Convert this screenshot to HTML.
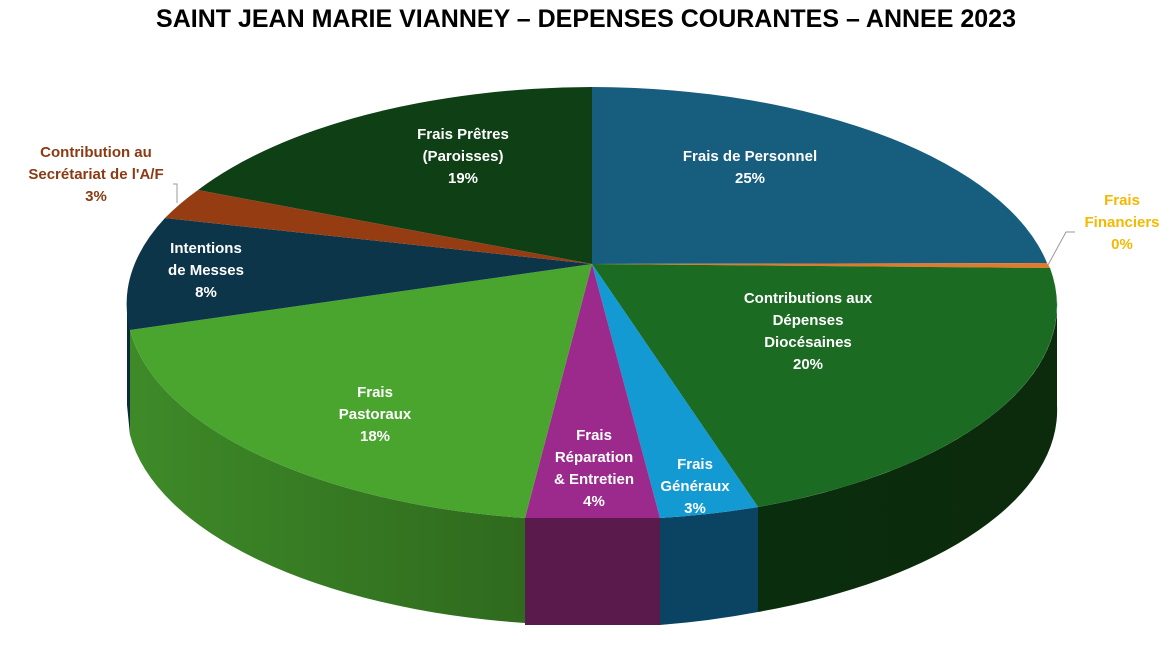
<!DOCTYPE html>
<html><head><meta charset="utf-8"><style>
html,body{margin:0;padding:0;background:#fff}
svg{display:block}
text{font-family:"Liberation Sans",sans-serif;font-weight:bold}
.w{fill:#fff;font-size:15px}
</style></head><body>
<svg width="1173" height="646" viewBox="0 0 1173 646">
<defs>
<linearGradient id="gp" x1="0" x2="1" y1="0" y2="0">
<stop offset="0" stop-color="#3e8a28"/><stop offset="1" stop-color="#2f6a1e"/></linearGradient>
<linearGradient id="gc" x1="0" x2="1"><stop offset="0" stop-color="#0a2e0d"/><stop offset="1" stop-color="#0c2a0c"/></linearGradient>
</defs>
<text x="586" y="27" text-anchor="middle" style="font-size:25px" fill="#000">SAINT JEAN MARIE VIANNEY – DEPENSES COURANTES – ANNEE 2023</text>
<!-- sides -->
<path d="M130,330 A465,216 0 0 0 525,518 L525,623 A465,216 0 0 1 130,435 Z" fill="url(#gp)"/>
<path d="M127,300 L130,330 L130,435 L127,405 Z" fill="#0b2a3a"/>
<path d="M525,518 L660,518 L660,625 L525,625 Z" fill="#5b1a4c"/>
<path d="M660,518 A465,216 0 0 0 758,507 L758,612 A465,216 0 0 1 660,625 Z" fill="#0a4462"/>
<path d="M758,507 A465,216 0 0 0 1057,300 L1057,405 A465,216 0 0 1 758,612 Z" fill="url(#gc)"/>
<!-- top -->
<g>
<path d="M592,264 L592,87 A465,216 0 0 1 1047,263 Z" fill="#175e7e"/>
<path d="M592,264 L1047,263 A465,216 0 0 1 1050,268 Z" fill="#e07a2c"/>
<path d="M592,264 L1050,268 A465,216 0 0 1 758,507 Z" fill="#1b6b23"/>
<path d="M592,264 L758,507 A465,216 0 0 1 660,518 Z" fill="#139ad2"/>
<path d="M592,264 L660,518 L525,518 Z" fill="#9c2a8d"/>
<path d="M592,264 L525,518 A465,216 0 0 1 130,330 Z" fill="#4aa52e"/>
<path d="M592,264 L130,330 A465,216 0 0 1 165,218 Z" fill="#0d354a"/>
<path d="M592,264 L165,218 A465,216 0 0 1 198,190 Z" fill="#963c12"/>
<path d="M592,264 L198,190 A465,216 0 0 1 592,87 Z" fill="#0f3f14"/>
</g>
<polyline points="1048,265 1066,232 1075,232" fill="none" stroke="#999" stroke-width="1"/>
<polyline points="173,184 177,184 177,203" fill="none" stroke="#999" stroke-width="1"/>
<g text-anchor="middle">
<text class="w" x="750" y="161">Frais de Personnel</text>
<text class="w" x="750" y="183">25%</text>
<text x="1122" y="205" fill="#f5b800" style="font-size:15px">Frais</text>
<text x="1122" y="227" fill="#f5b800" style="font-size:15px">Financiers</text>
<text x="1122" y="249" fill="#f5b800" style="font-size:15px">0%</text>
<text class="w" x="808" y="303">Contributions aux</text>
<text class="w" x="808" y="325">Dépenses</text>
<text class="w" x="808" y="347">Diocésaines</text>
<text class="w" x="808" y="369">20%</text>
<text class="w" x="695" y="469">Frais</text>
<text class="w" x="695" y="491">Généraux</text>
<text class="w" x="695" y="513">3%</text>
<text class="w" x="594" y="440">Frais</text>
<text class="w" x="594" y="462">Réparation</text>
<text class="w" x="594" y="484">&amp; Entretien</text>
<text class="w" x="594" y="506">4%</text>
<text class="w" x="375" y="397">Frais</text>
<text class="w" x="375" y="419">Pastoraux</text>
<text class="w" x="375" y="441">18%</text>
<text class="w" x="206" y="253">Intentions</text>
<text class="w" x="206" y="275">de Messes</text>
<text class="w" x="206" y="297">8%</text>
<text x="96" y="157" fill="#8b3a12" style="font-size:15px">Contribution au</text>
<text x="96" y="179" fill="#8b3a12" style="font-size:15px">Secrétariat de l'A/F</text>
<text x="96" y="201" fill="#8b3a12" style="font-size:15px">3%</text>
<text class="w" x="463" y="139">Frais Prêtres</text>
<text class="w" x="463" y="161">(Paroisses)</text>
<text class="w" x="463" y="183">19%</text>
</g>
</svg>
</body></html>
